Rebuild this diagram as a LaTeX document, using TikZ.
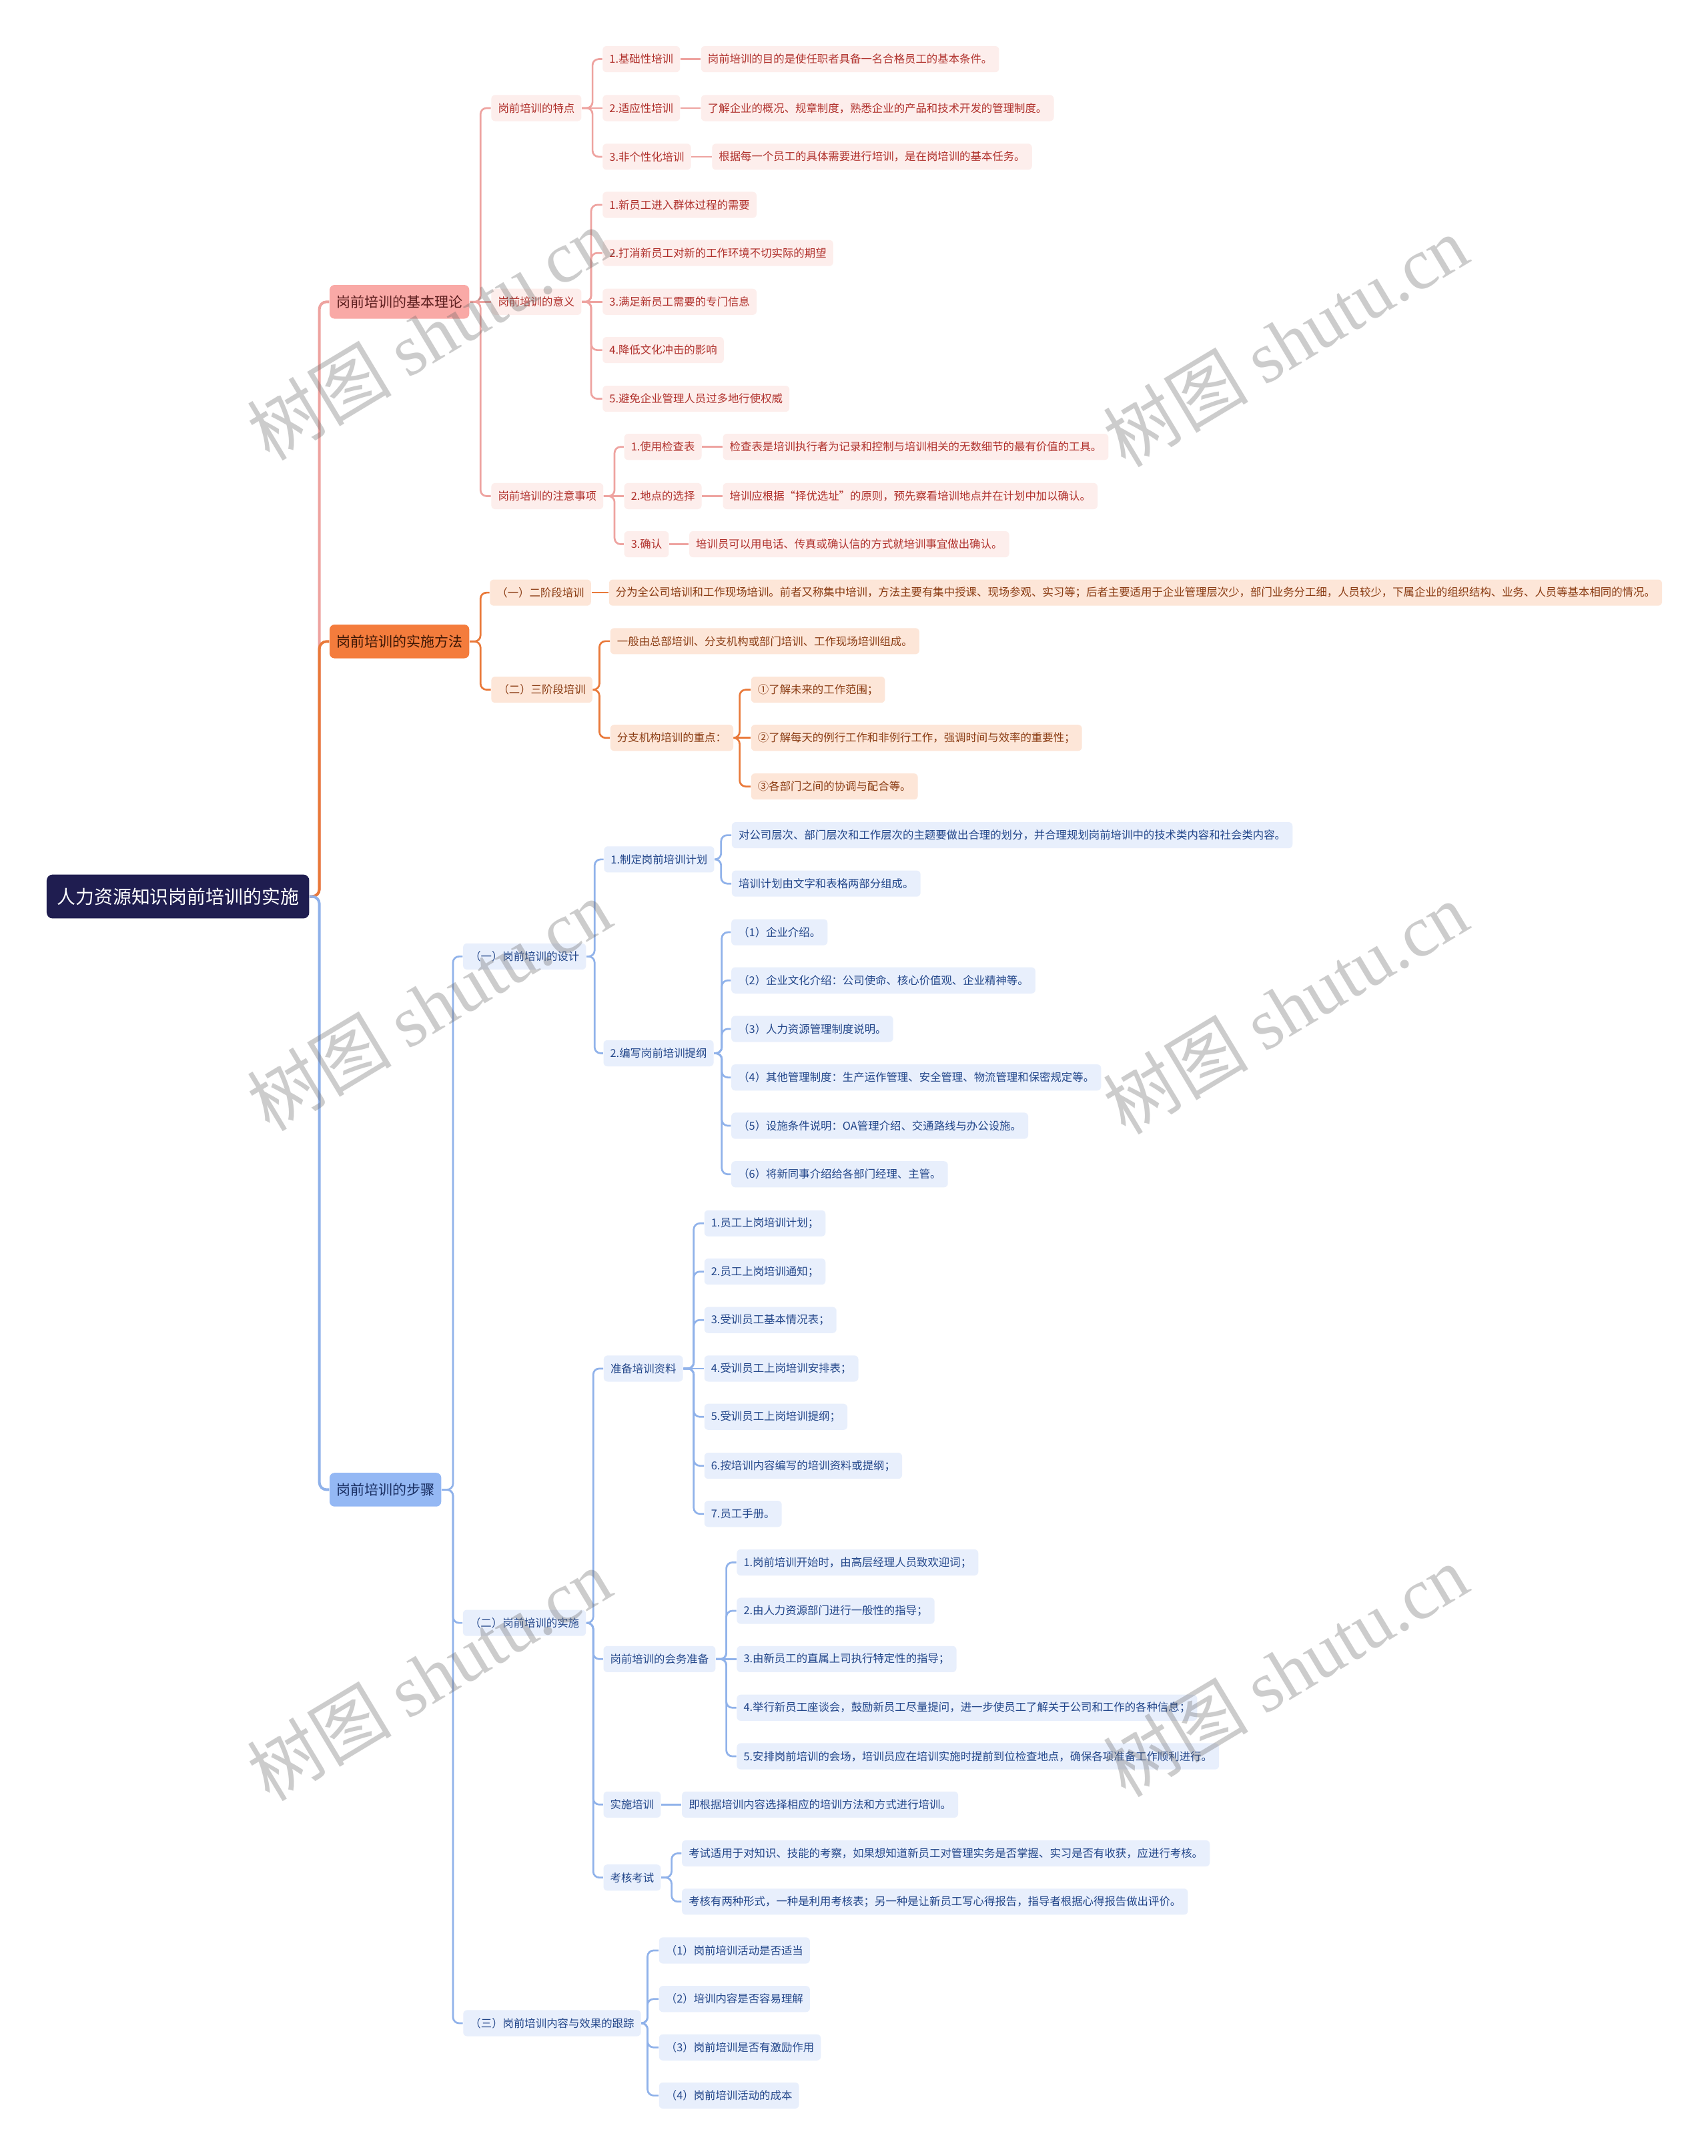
\documentclass[tikz,border=0pt]{standalone}
\usepackage{fontspec}
\newfontfamily\cjk{Noto Sans CJK SC}
\newfontfamily\wmserif{Liberation Serif}
\usetikzlibrary{calc}
\definecolor{rootfill}{HTML}{1F1D50}
\definecolor{pkL}{HTML}{F9A9A6}
\definecolor{pkLt}{HTML}{5C1E1E}
\definecolor{pkfill}{HTML}{FDEEEC}
\definecolor{pktext}{HTML}{B0302B}
\definecolor{pkline}{HTML}{EEA3A0}
\definecolor{ogL}{HTML}{F47C3C}
\definecolor{ogLt}{HTML}{3D1705}
\definecolor{ogfill}{HTML}{FDE6D8}
\definecolor{ogtext}{HTML}{8A3B12}
\definecolor{ogline}{HTML}{E9793A}
\definecolor{blL}{HTML}{94B8F4}
\definecolor{blLt}{HTML}{1A2F63}
\definecolor{blfill}{HTML}{E8EFFC}
\definecolor{bltext}{HTML}{22468A}
\definecolor{blline}{HTML}{90B2EA}
\newcommand{\elb}[4]{\draw[#1] (#2.east) -- (#2.east -| #3) |- (#4.west);}
\newcommand{\stl}[3]{\draw[#1] (#2.east) -- (#3.west);}
\begin{document}
\begin{tikzpicture}[x=0.02cm,y=-0.02cm,
  base/.style={anchor=west, font=\cjk\fontsize{4.53}{5.5}\selectfont, inner xsep=2.8pt, inner ysep=0pt, minimum height=0.38cm, rounded corners=1.6pt},
  pk/.style={base, fill=pkfill, text=pktext},
  og/.style={base, fill=ogfill, text=ogtext},
  bl/.style={base, fill=blfill, text=bltext},
  lone/.style={anchor=west, font=\cjk\fontsize{5.8}{7}\selectfont, inner xsep=2.8pt, inner ysep=0pt, minimum height=0.49cm, rounded corners=2pt},
  rootbox/.style={anchor=west, font=\cjk\fontsize{7.7}{9}\selectfont, fill=rootfill, text=white, inner xsep=4.3pt, inner ysep=0pt, minimum height=0.64cm, rounded corners=2.5pt},
  lk/.style={line width=0.75pt, rounded corners=2.5pt},
  tk/.style={line width=1.1pt, rounded corners=3pt},
  pkl/.style={lk, draw=pkline}, ogl/.style={lk, draw=ogline}, bll/.style={lk, draw=blline},
  pkt/.style={tk, draw=pkline}, ogt/.style={tk, draw=ogline}, blt/.style={tk, draw=blline},
  wm/.style={font=\cjk\fontsize{30}{30}\selectfont, text=black!60, text opacity=0.33, rotate=31}
]
\fill[white] (0,0) rectangle (1242,1568);
\useasboundingbox (0,0) rectangle (1242,1568);
% vertical guide coordinates
\coordinate (vR) at (232.3,0);
\coordinate (vA) at (349.5,0);
\coordinate (vA1) at (431,0);
\coordinate (vA2) at (430,0);
\coordinate (vA3) at (447,0);
\coordinate (vB) at (349.5,0);
\coordinate (vB2) at (436,0);
\coordinate (vB22) at (538,0);
\coordinate (vC) at (329.5,0);
\coordinate (vC1) at (432.5,0);
\coordinate (vC11) at (524.5,0);
\coordinate (vC12) at (525,0);
\coordinate (vC2) at (431.5,0);
\coordinate (vC21) at (504.6,0);
\coordinate (vC22) at (528.3,0);
\coordinate (vC24) at (488.5,0);
\coordinate (vC3) at (471,0);

% root
\node[rootbox] (R) at (33.6,652) {人力资源知识岗前培训的实施};

% ---------- pink branch
\node[lone, fill=pkL, text=pkLt] (A) at (239.4,219.5) {岗前培训的基本理论};
\node[pk] (A1) at (357,78.6) {岗前培训的特点};
\node[pk] (A11) at (438,43) {1.基础性培训};
\node[pk] (A11l) at (509.6,43) {岗前培训的目的是使任职者具备一名合格员工的基本条件。};
\node[pk] (A12) at (438,78.6) {2.适应性培训};
\node[pk] (A12l) at (509.6,78.6) {了解企业的概况、规章制度，熟悉企业的产品和技术开发的管理制度。};
\node[pk] (A13) at (438,114) {3.非个性化培训};
\node[pk] (A13l) at (517.6,114) {根据每一个员工的具体需要进行培训，是在岗培训的基本任务。};
\node[pk] (A2) at (357,219.5) {岗前培训的意义};
\node[pk] (A21) at (438,149) {1.新员工进入群体过程的需要};
\node[pk] (A22) at (438,184) {2.打消新员工对新的工作环境不切实际的期望};
\node[pk] (A23) at (438,219.5) {3.满足新员工需要的专门信息};
\node[pk] (A24) at (438,254.6) {4.降低文化冲击的影响};
\node[pk] (A25) at (438,290) {5.避免企业管理人员过多地行使权威};
\node[pk] (A3) at (357,360.8) {岗前培训的注意事项};
\node[pk] (A31) at (453.7,325) {1.使用检查表};
\node[pk] (A31l) at (525.5,325) {检查表是培训执行者为记录和控制与培训相关的无数细节的最有价值的工具。};
\node[pk] (A32) at (453.7,360.8) {2.地点的选择};
\node[pk] (A32l) at (525.5,360.8) {培训应根据“择优选址”的原则，预先察看培训地点并在计划中加以确认。};
\node[pk] (A33) at (453.7,395.8) {3.确认};
\node[pk] (A33l) at (501,395.8) {培训员可以用电话、传真或确认信的方式就培训事宜做出确认。};

% ---------- orange branch
\node[lone, fill=ogL, text=ogLt] (B) at (239.4,466.5) {岗前培训的实施方法};
\node[og] (B1) at (356,431) {（一）二阶段培训};
\node[og] (B1l) at (442.6,431) {分为全公司培训和工作现场培训。前者又称集中培训，方法主要有集中授课、现场参观、实习等；后者主要适用于企业管理层次少，部门业务分工细，人员较少，下属企业的组织结构、业务、人员等基本相同的情况。};
\node[og] (B2) at (357,501.6) {（二）三阶段培训};
\node[og] (B21) at (443.6,466.3) {一般由总部培训、分支机构或部门培训、工作现场培训组成。};
\node[og] (B22) at (443.6,536.6) {分支机构培训的重点：};
\node[og] (B221) at (546,501.6) {①了解未来的工作范围；};
\node[og] (B222) at (546,536.6) {②了解每天的例行工作和非例行工作，强调时间与效率的重要性；};
\node[og] (B223) at (546,572) {③各部门之间的协调与配合等。};

% ---------- blue branch
\node[lone, fill=blL, text=blLt] (C) at (239.4,1083.4) {岗前培训的步骤};
\node[bl] (C1) at (336.5,695.6) {（一）岗前培训的设计};
\node[bl] (C11) at (439,625) {1.制定岗前培训计划};
\node[bl] (C111) at (532,607.4) {对公司层次、部门层次和工作层次的主题要做出合理的划分，并合理规划岗前培训中的技术类内容和社会类内容。};
\node[bl] (C112) at (532,642.6) {培训计划由文字和表格两部分组成。};
\node[bl] (C12) at (438.6,766) {2.编写岗前培训提纲};
\node[bl] (C121) at (531.6,678) {（1）企业介绍。};
\node[bl] (C122) at (531.6,713) {（2）企业文化介绍：公司使命、核心价值观、企业精神等。};
\node[bl] (C123) at (531.6,748.3) {（3）人力资源管理制度说明。};
\node[bl] (C124) at (531.6,783.6) {（4）其他管理制度：生产运作管理、安全管理、物流管理和保密规定等。};
\node[bl] (C125) at (531.6,818.7) {（5）设施条件说明：OA管理介绍、交通路线与办公设施。};
\node[bl] (C126) at (531.6,854) {（6）将新同事介绍给各部门经理、主管。};
\node[bl] (C2) at (336.4,1180.3) {（二）岗前培训的实施};
\node[bl] (C21) at (438.8,995.3) {准备培训资料};
\node[bl] (C211) at (512,889.7) {1.员工上岗培训计划；};
\node[bl] (C212) at (512,924.8) {2.员工上岗培训通知；};
\node[bl] (C213) at (512,960) {3.受训员工基本情况表；};
\node[bl] (C214) at (512,995.3) {4.受训员工上岗培训安排表；};
\node[bl] (C215) at (512,1030.4) {5.受训员工上岗培训提纲；};
\node[bl] (C216) at (512,1066) {6.按培训内容编写的培训资料或提纲；};
\node[bl] (C217) at (512,1101) {7.员工手册。};
\node[bl] (C22) at (438.6,1206.6) {岗前培训的会务准备};
\node[bl] (C221) at (535.6,1136.3) {1.岗前培训开始时，由高层经理人员致欢迎词；};
\node[bl] (C222) at (535.6,1171.5) {2.由人力资源部门进行一般性的指导；};
\node[bl] (C223) at (535.6,1206.6) {3.由新员工的直属上司执行特定性的指导；};
\node[bl] (C224) at (535.6,1242) {4.举行新员工座谈会，鼓励新员工尽量提问，进一步使员工了解关于公司和工作的各种信息；};
\node[bl] (C225) at (535.6,1277.3) {5.安排岗前培训的会场，培训员应在培训实施时提前到位检查地点，确保各项准备工作顺利进行。};
\node[bl] (C23) at (438.6,1312.4) {实施培训};
\node[bl] (C23l) at (495.7,1312.4) {即根据培训内容选择相应的培训方法和方式进行培训。};
\node[bl] (C24) at (438.6,1365.5) {考核考试};
\node[bl] (C241) at (495.7,1347.9) {考试适用于对知识、技能的考察，如果想知道新员工对管理实务是否掌握、实习是否有收获，应进行考核。};
\node[bl] (C242) at (495.7,1383) {考核有两种形式，一种是利用考核表；另一种是让新员工写心得报告，指导者根据心得报告做出评价。};
\node[bl] (C3) at (336.6,1471.4) {（三）岗前培训内容与效果的跟踪};
\node[bl] (C31) at (479,1418.5) {（1）岗前培训活动是否适当};
\node[bl] (C32) at (479,1453.8) {（2）培训内容是否容易理解};
\node[bl] (C33) at (479,1489) {（3）岗前培训是否有激励作用};
\node[bl] (C34) at (479,1524) {（4）岗前培训活动的成本};

% ---------- connectors: root level
\elb{pkt}{R}{vR}{A}
\elb{ogt}{R}{vR}{B}
\elb{blt}{R}{vR}{C}

% pink
\elb{pkl}{A}{vA}{A1}
\stl{pkl}{A}{A2}
\elb{pkl}{A}{vA}{A3}
\elb{pkl}{A1}{vA1}{A11}
\stl{pkl}{A1}{A12}
\elb{pkl}{A1}{vA1}{A13}
\stl{pkl}{A11}{A11l}
\stl{pkl}{A12}{A12l}
\stl{pkl}{A13}{A13l}
\elb{pkl}{A2}{vA2}{A21}
\elb{pkl}{A2}{vA2}{A22}
\stl{pkl}{A2}{A23}
\elb{pkl}{A2}{vA2}{A24}
\elb{pkl}{A2}{vA2}{A25}
\elb{pkl}{A3}{vA3}{A31}
\stl{pkl}{A3}{A32}
\elb{pkl}{A3}{vA3}{A33}
\stl{pkl}{A31}{A31l}
\stl{pkl}{A32}{A32l}
\stl{pkl}{A33}{A33l}

% orange
\elb{ogl}{B}{vB}{B1}
\elb{ogl}{B}{vB}{B2}
\stl{ogl}{B1}{B1l}
\elb{ogl}{B2}{vB2}{B21}
\elb{ogl}{B2}{vB2}{B22}
\elb{ogl}{B22}{vB22}{B221}
\stl{ogl}{B22}{B222}
\elb{ogl}{B22}{vB22}{B223}

% blue
\elb{bll}{C}{vC}{C1}
\elb{bll}{C}{vC}{C2}
\elb{bll}{C}{vC}{C3}
\elb{bll}{C1}{vC1}{C11}
\elb{bll}{C1}{vC1}{C12}
\elb{bll}{C11}{vC11}{C111}
\elb{bll}{C11}{vC11}{C112}
\foreach \i in {1,...,6}{\elb{bll}{C12}{vC12}{C12\i}}
\elb{bll}{C2}{vC2}{C21}
\elb{bll}{C2}{vC2}{C22}
\elb{bll}{C2}{vC2}{C23}
\elb{bll}{C2}{vC2}{C24}
\foreach \i in {1,2,3,5,6,7}{\elb{bll}{C21}{vC21}{C21\i}}
\stl{bll}{C21}{C214}
\foreach \i in {1,2,4,5}{\elb{bll}{C22}{vC22}{C22\i}}
\stl{bll}{C22}{C223}
\stl{bll}{C23}{C23l}
\elb{bll}{C24}{vC24}{C241}
\elb{bll}{C24}{vC24}{C242}
\foreach \i in {1,...,4}{\elb{bll}{C3}{vC3}{C3\i}}

% watermarks
\node[wm] (w1) at (312,243) {树图 {\wmserif shutu.cn}};
\node[wm] (w2) at (935,248) {树图 {\wmserif shutu.cn}};
\node[wm] (w3) at (312,731) {树图 {\wmserif shutu.cn}};
\node[wm] (w4) at (935,733) {树图 {\wmserif shutu.cn}};
\node[wm] (w5) at (312,1218) {树图 {\wmserif shutu.cn}};
\node[wm] (w6) at (935,1215) {树图 {\wmserif shutu.cn}};
\end{tikzpicture}
\end{document}
